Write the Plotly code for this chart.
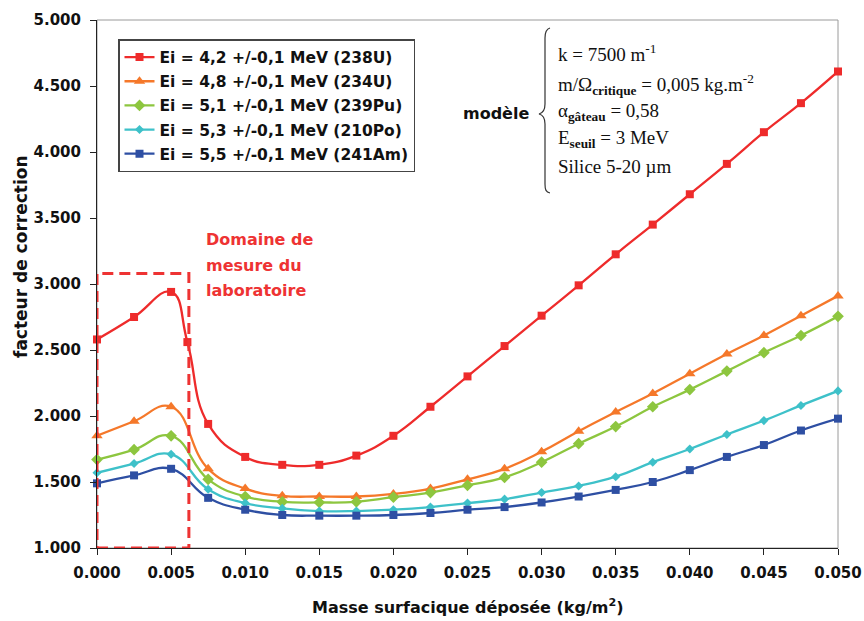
import plotly.graph_objects as go

# ---------------- data ----------------
x_common = [0.0, 0.0025, 0.005, 0.0075, 0.01, 0.0125, 0.015, 0.0175, 0.02, 0.0225,
            0.025, 0.0275, 0.03, 0.0325, 0.035, 0.0375, 0.04, 0.0425, 0.045, 0.0475, 0.05]
x_red = [0.0, 0.0025, 0.005, 0.0061, 0.0075, 0.01, 0.0125, 0.015, 0.0175, 0.02, 0.0225,
         0.025, 0.0275, 0.03, 0.0325, 0.035, 0.0375, 0.04, 0.0425, 0.045, 0.0475, 0.05]

y_238U = [2.58, 2.75, 2.94, 2.56, 1.94, 1.69, 1.63, 1.63, 1.70, 1.85, 2.07,
          2.30, 2.53, 2.76, 2.99, 3.225, 3.45, 3.68, 3.91, 4.15, 4.37, 4.61]
y_234U = [1.85, 1.96, 2.07, 1.60, 1.45, 1.395, 1.39, 1.39, 1.41, 1.45,
          1.52, 1.60, 1.73, 1.885, 2.03, 2.17, 2.32, 2.47, 2.61, 2.76, 2.91]
y_239Pu = [1.67, 1.745, 1.85, 1.52, 1.39, 1.35, 1.345, 1.35, 1.385, 1.42,
           1.475, 1.535, 1.65, 1.79, 1.92, 2.07, 2.20, 2.34, 2.48, 2.61, 2.755]
y_210Po = [1.57, 1.64, 1.71, 1.445, 1.34, 1.30, 1.28, 1.28, 1.29, 1.31,
           1.34, 1.37, 1.42, 1.47, 1.54, 1.65, 1.75, 1.86, 1.965, 2.08, 2.19]
y_241Am = [1.49, 1.55, 1.60, 1.38, 1.29, 1.25, 1.245, 1.245, 1.25, 1.265,
           1.29, 1.31, 1.345, 1.39, 1.44, 1.50, 1.59, 1.69, 1.78, 1.89, 1.98]

names = ["Ei = 4,2 +/-0,1 MeV (238U)", "Ei = 4,8 +/-0,1 MeV (234U)",
         "Ei = 5,1 +/-0,1 MeV (239Pu)", "Ei = 5,3 +/-0,1 MeV (210Po)",
         "Ei = 5,5 +/-0,1 MeV (241Am)"]

x_ticks = [0.0, 0.005, 0.01, 0.015, 0.02, 0.025, 0.03, 0.035, 0.04, 0.045, 0.05]
y_ticks = [1.0, 1.5, 2.0, 2.5, 3.0, 3.5, 4.0, 4.5, 5.0]

# measurement domain of the laboratory (data coordinates)
domain_x = [0.0, 0.0062]
domain_y = [1.0, 3.08]

# ---------------- styles ----------------
colors = ["#EE2B2B", "#F5782A", "#8DC63F", "#3EC1C9", "#2E4FA3"]
symbols = ["square", "triangle-up", "diamond", "diamond", "square"]
msizes = [8, 10, 9, 7, 8]
SANS = "DejaVu Sans"
SERIF = "Liberation Serif"

# plot area in pixels
L, R, T, B = 97, 838, 20, 548
W, H = 864, 621


def pxx(x):
    return (x - L) / (R - L)


def pxy(y):
    return (B - y) / (B - T)


fig = go.Figure()
series = [(x_red, y_238U), (x_common, y_234U), (x_common, y_239Pu),
          (x_common, y_210Po), (x_common, y_241Am)]
for i, (xs, ys) in enumerate(series):
    fig.add_trace(go.Scatter(
        x=xs, y=ys, name=names[i], mode="lines+markers",
        line=dict(color=colors[i], width=2.3, shape="spline", smoothing=1.3),
        marker=dict(symbol=symbols[i], size=msizes[i], color=colors[i]),
        legendgroup="g%d" % i, cliponaxis=False,
    ))

# frame (top/right gray)
fig.add_shape(type="rect", xref="paper", yref="paper", x0=0, x1=1, y0=0, y1=1,
              line=dict(color="#9a9a9a", width=1), layer="below")

# dashed domain rectangle
fig.add_shape(type="rect", xref="x", yref="y",
              x0=domain_x[0], x1=domain_x[1], y0=domain_y[0], y1=domain_y[1],
              line=dict(color="#EE3333", width=3, dash="11px,6px"), layer="above")

# brace path (paper coordinates from pixel positions)
pts = [(550, 28), (546, 29), (545, 32), (545, 38), (545, 104), (545, 110), (543, 113),
       (539, 114), (543, 115), (545, 118), (545, 124), (545, 184), (545, 190), (546, 192),
       (550, 193)]
P = ["%.5f,%.5f" % (pxx(a), pxy(b)) for a, b in pts]
path = ("M " + P[0] + " C " + P[1] + " " + P[2] + " " + P[3] + " L " + P[4] +
        " C " + P[5] + " " + P[6] + " " + P[7] + " C " + P[8] + " " + P[9] + " " + P[10] +
        " L " + P[11] + " C " + P[12] + " " + P[13] + " " + P[14])
fig.add_shape(type="path", xref="paper", yref="paper", path=path,
              line=dict(color="#333333", width=1.2))

ann = []
# red annotation lines
for txt, yy in [("Domaine de", 240), ("mesure du", 265), ("laboratoire", 290)]:
    ann.append(dict(text=txt, x=pxx(204), y=pxy(yy), xref="paper", yref="paper",
                    xanchor="left", yanchor="middle", showarrow=False,
                    font=dict(family=SANS, size=16, color="#EE3333", weight="bold")))
# model
ann.append(dict(text="modèle", x=pxx(496), y=pxy(113), xref="paper", yref="paper",
                xanchor="center", yanchor="middle", showarrow=False,
                font=dict(family=SANS, size=16, color="#111111", weight="bold")))
model_lines = [
    ("k = 7500 m<sup>-1</sup>", 53),
    ("m/Ω<sub><b>critique</b></sub> = 0,005 kg.m<sup>-2</sup>", 85),
    ("α<sub><b>gâteau</b></sub> = 0,58", 112),
    ("E<sub><b>seuil</b></sub> = 3 MeV", 139),
    ("Silice 5-20 µm", 166),
]
for txt, yy in model_lines:
    ann.append(dict(text=txt, x=pxx(556), y=pxy(yy), xref="paper", yref="paper",
                    xanchor="left", yanchor="middle", showarrow=False,
                    font=dict(family=SERIF, size=19, color="#111111")))
# axis titles
ann.append(dict(text="Masse surfacique déposée (kg/m<sup>2</sup>)", x=pxx(468), y=pxy(606),
                xref="paper", yref="paper", xanchor="center", yanchor="middle",
                showarrow=False, font=dict(family=SANS, size=16, color="#111111", weight="bold")))
ann.append(dict(text="facteur de correction", x=pxx(21), y=pxy(257), textangle=-90,
                xref="paper", yref="paper", xanchor="center", yanchor="middle",
                showarrow=False, font=dict(family=SANS, size=17, color="#111111", weight="bold")))

fig.update_layout(
    width=W, height=H,
    margin=dict(l=L, r=W - R, t=T, b=H - B, pad=0, autoexpand=False),
    paper_bgcolor="white", plot_bgcolor="white",
    showlegend=True,
    legend=dict(x=pxx(118), y=pxy(39), xanchor="left", yanchor="top",
                bordercolor="#444444", borderwidth=1.5, bgcolor="white",
                font=dict(family=SANS, size=15.5, color="#111111", weight="bold"),
                tracegroupgap=1, itemwidth=30),
    annotations=ann,
    xaxis=dict(range=[0, 0.05], tickvals=x_ticks, tickformat=".3f", automargin=False,
               showline=True, linecolor="#222222", linewidth=1, showgrid=False,
               zeroline=False, ticks="outside", ticklen=6, tickcolor="#222222",
               ticklabelstandoff=5,
               tickfont=dict(family=SANS, size=15, color="#111111", weight="bold")),
    yaxis=dict(range=[1, 5], tickvals=y_ticks, tickformat=".3f", automargin=False,
               showline=True, linecolor="#222222", linewidth=1, showgrid=False,
               zeroline=False, ticks="outside", ticklen=6, tickcolor="#222222",
               ticklabelstandoff=6,
               tickfont=dict(family=SANS, size=15, color="#111111", weight="bold")),
)

fig.write_html("out.html")
